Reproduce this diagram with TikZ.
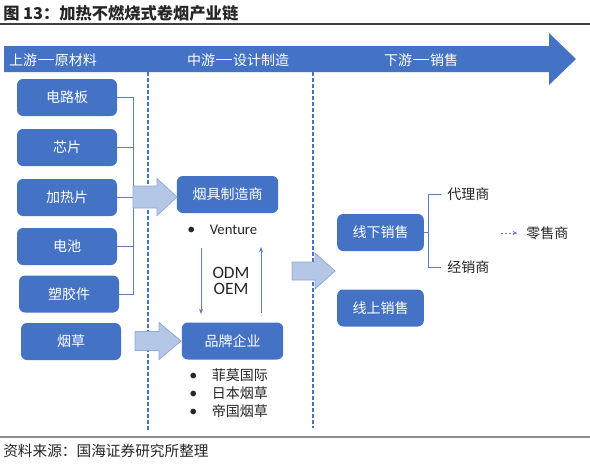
\documentclass[tikz,border=0pt]{standalone}
\usepackage{fontspec}
\setmainfont{Noto Sans CJK SC}
\newfontfamily\latinfont{Carlito}
\usetikzlibrary{arrows.meta}
\definecolor{boxblue}{HTML}{4472C4}
\definecolor{lightarrow}{HTML}{B4C7E7}
\definecolor{lightedge}{HTML}{8FAADC}
\definecolor{linkblue}{HTML}{5B7FC4}
\definecolor{txt}{HTML}{262626}
\newcommand\myblockarrow[6]{% x1, tip, head base, y, body half, head half
  \draw[blockarrow] (#1,#4-#5) -- (#3,#4-#5) -- (#3,#4-#6) -- (#2,#4) -- (#3,#4+#6) -- (#3,#4+#5) -- (#1,#4+#5) -- cycle;}
\newcommand\longdash{\hspace{0.5pt}\rule[0.36em]{12.5pt}{0.7pt}\hspace{0.5pt}}
\newcommand\mybullet{{\latinfont\fontsize{12}{13}\selectfont •}}
\begin{document}
\begin{tikzpicture}[x=0.75pt,y=-0.75pt,
  box/.style={fill=boxblue, rounded corners=4.5pt, text=white, font=\fontsize{10.5}{12}\selectfont, inner sep=0pt, minimum height=27.75pt},
  lbox/.style={box, minimum width=75pt},
  mbox/.style={box, minimum width=76pt},
  rbox/.style={box, minimum width=65pt},
  blockarrow/.style={fill=lightarrow, draw=lightedge, line width=0.6pt},
  header/.style={text=white, font=\fontsize{10.5}{12}\selectfont, inner sep=0pt},
  sep/.style={draw=boxblue, line width=1pt, dash pattern=on 3pt off 1.5pt},
  link/.style={draw=linkblue, line width=0.7pt},
  dtext/.style={text=txt, font=\fontsize{10.5}{12}\selectfont, inner sep=0pt},
  ltext/.style={text=txt, font=\latinfont\fontsize{13}{14}\selectfont, inner sep=0pt},
  vtext/.style={text=txt, font=\latinfont\fontsize{11}{13}\selectfont, inner sep=0pt}
]
\useasboundingbox (0,0) rectangle (590,465);
\fill[white] (0,0) rectangle (590,465);

% title
\node[anchor=west, inner sep=0pt, text=txt, font=\bfseries\fontsize{12.2}{14}\selectfont] (title) at (3,13) {图 13：加热不燃烧式卷烟产业链};
\draw[draw=black!75, line width=0.8pt] (0,24) -- (590,24);

% header arrow
\fill[boxblue] (4,46) -- (549,46) -- (549,33) -- (576,59) -- (549,85) -- (549,72) -- (4,72) -- cycle;
\node[header] (h1) at (53,60) {上游\longdash 原材料};
\node[header] (h2) at (238,60) {中游\longdash 设计制造};
\node[header] (h3) at (421,60) {下游\longdash 销售};

% separators
\draw[sep] (148,72) -- (148,430);
\draw[sep] (313,72) -- (313,428);

% left boxes
\node[lbox] (b1) at (67,97.5) {电路板};
\node[lbox] (b2) at (67,147.5) {芯片};
\node[lbox] (b3) at (67,197.5) {加热片};
\node[lbox] (b4) at (67,246.5) {电池};
\node[lbox] (b5) at (69,294) {塑胶件};
\node[lbox] (b6) at (71,341.5) {烟草};

% connectors from components
\coordinate (j1) at (133,97.5);
\coordinate (j5) at (133,294);
\draw[link] (b1.east) -- (j1) -- (j5) -- (b5.east);
\draw[link] (b2.east) -- (b2.east -| j1);
\draw[link] (b3.east) -- (b3.east -| j1);
\draw[link] (b4.east) -- (b4.east -| j1);

% middle boxes
\node[mbox] (m1) at (227.5,194.5) {烟具制造商};
\node[mbox] (m2) at (232.5,341) {品牌企业};

% block arrows
\myblockarrow{133}{177}{157}{197}{11}{18.5}
\myblockarrow{135}{181}{159}{341}{9.5}{18.5}
\myblockarrow{292}{335}{315}{271}{9}{18}

% Venture
\node[vtext, anchor=west] (ven) at (187,230) {\mybullet\hspace{11pt}Venture};

% ODM / OEM arrows
\coordinate (d1) at (201,248);
\coordinate (d2) at (201,314);
\coordinate (u1) at (261,313);
\coordinate (u2) at (261,247);
\draw[link, -{Stealth[length=4pt,width=3pt]}] (d1) -- (d2);
\draw[link, -{Stealth[length=4pt,width=3pt]}] (u1) -- (u2);
\node[ltext] (odm) at (231,273) {ODM};
\node[ltext] (oem) at (231,289) {OEM};

% brand list
\node[dtext, anchor=west] (p1) at (189,375) {\mybullet\hspace{11pt}菲莫国际};
\node[dtext, anchor=west] (p2) at (189,393) {\mybullet\hspace{11pt}日本烟草};
\node[dtext, anchor=west] (p3) at (189,411) {\mybullet\hspace{11pt}帝国烟草};

% right boxes
\node[rbox] (r1) at (380.5,232.5) {线下销售};
\node[rbox] (r2) at (380.5,308) {线上销售};

% bracket
\node[dtext, anchor=west] (a1) at (447,194) {代理商};
\node[dtext, anchor=west] (a2) at (447,267) {经销商};
\node[dtext, anchor=west] (a3) at (526,233) {零售商};
\coordinate (k0) at (428,232.5);
\coordinate (k1) at (428,194);
\coordinate (k2) at (428,267);
\draw[link] (r1.east) -- (k0);
\draw[link] ([xshift=-4.5pt]a1.west) -- (k1) -- (k2) -- ([xshift=-4.5pt]a2.west);
\draw[link, dashed, dash pattern=on 2pt off 1pt, -{Stealth[length=3.5pt,width=3pt]}] ([xshift=-19pt]a3.west) -- ([xshift=-6.5pt]a3.west);

% source
\draw[draw=black!45, line width=0.8pt] (0,437) -- (590,437);
\node[anchor=west, inner sep=0pt, text=txt, font=\fontsize{11}{13}\selectfont] (src) at (3,451) {资料来源：国海证券研究所整理};
\end{tikzpicture}
\end{document}
